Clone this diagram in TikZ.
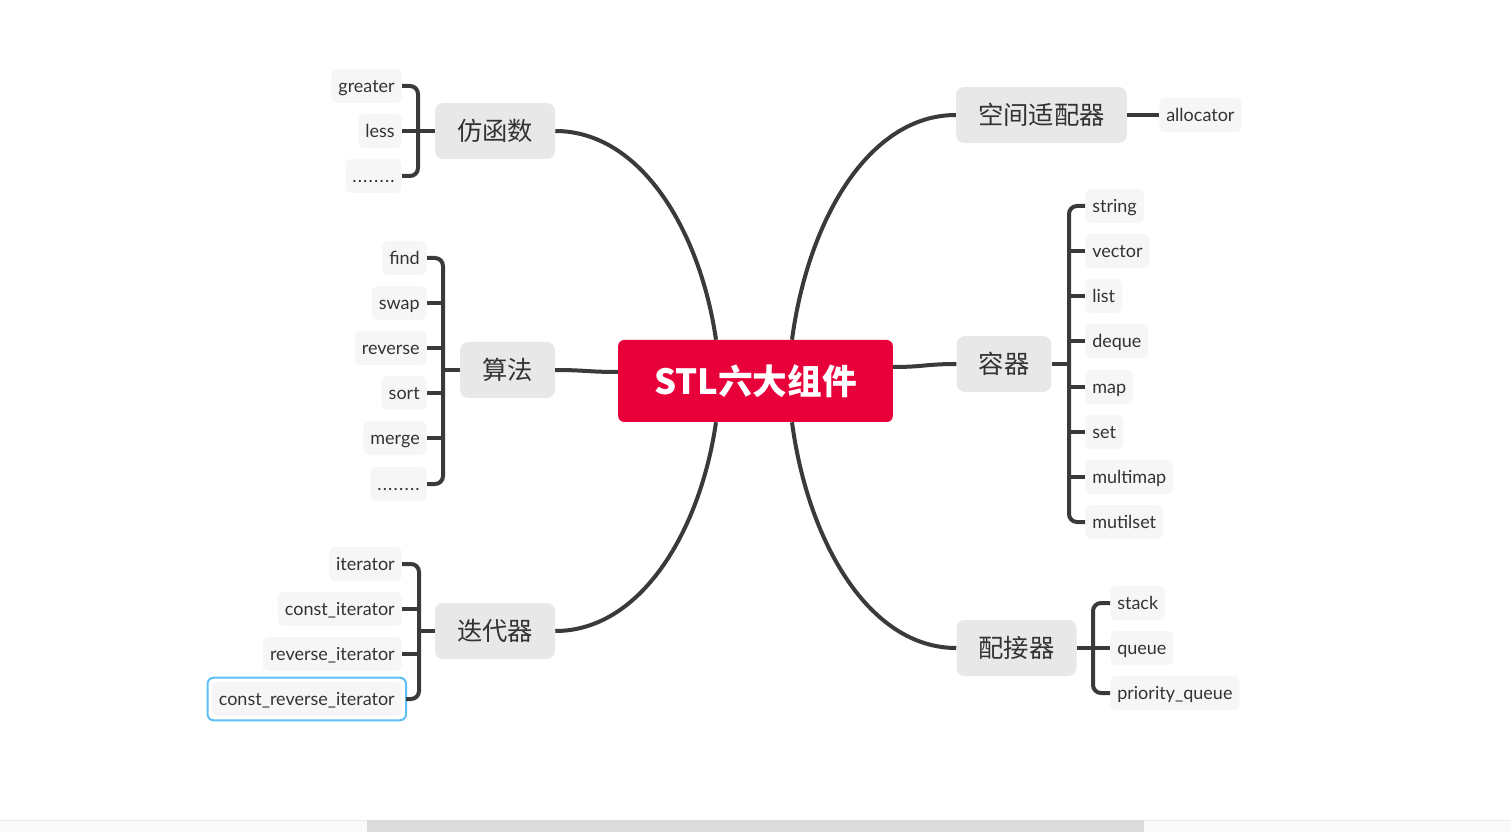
\documentclass[tikz,border=0pt]{standalone}
\usepackage{fontspec}
\setmainfont{Lato}
\newfontfamily\cjk{Noto Sans CJK SC}
\usetikzlibrary{calc}
\definecolor{stlred}{HTML}{E8003A}
\definecolor{topicgray}{HTML}{E8E8E8}
\definecolor{leafgray}{HTML}{F6F6F6}
\definecolor{linegray}{HTML}{3A3A3A}
\definecolor{textgray}{HTML}{333333}
\definecolor{selblue}{HTML}{5EBEF6}
\newcommand\leafdots{.\kern0.9pt.\kern0.9pt.\kern0.9pt.\kern0.9pt.\kern0.9pt.\kern0.9pt.\kern0.9pt.}
\tikzstyle{root}=[rectangle,rounded corners=4.5pt,fill=stlred,text=white,font=\cjk\bfseries\fontsize{26}{30}\selectfont,minimum width=206pt,minimum height=61.5pt]
\tikzstyle{topic}=[rectangle,rounded corners=6pt,fill=topicgray,text=textgray,font=\cjk\fontsize{19}{22}\selectfont,inner xsep=16.5pt,minimum height=42pt]
\tikzstyle{leaf}=[rectangle,rounded corners=4.5pt,fill=leafgray,text=textgray,font=\fontsize{13.5}{16}\selectfont,inner xsep=5.25pt,inner ysep=0pt,text height=12.4pt,text depth=2.2pt,minimum height=25.5pt]
\tikzstyle{branch}=[draw=linegray,line width=3pt]
\tikzstyle{bracket}=[draw=linegray,line width=3pt,rounded corners=6pt]
\tikzstyle{selected leaf}=[draw=selblue,line width=1.5pt,rounded corners=4.5pt]

\begin{document}
\begin{tikzpicture}[x=0.75pt,y=-0.75pt]
  \useasboundingbox (0,0) rectangle (1511,834);

  % The root and the six topics
  \node[root] (stl) at (755.5,381) {STL六大组件};
  \foreach \pos/\name/\txt in {{(495,131)/fun/仿函数}, {(507.5,370)/alg/算法}, {(495,631)/iter/迭代器},
      {(1041.5,115)/alloc/空间适配器}, {(1004,364)/cont/容器}, {(1016.5,648)/adap/配接器}}
    \node[topic] (\name) at \pos {\txt};

  % Leaves on the left, right aligned
  \foreach \name/\y/\txt in {greater/86/greater, less/131/less, fdots/176/\leafdots}
    \node[leaf, anchor=east] (\name) at (402,\y) {\txt};
  \foreach \name/\y/\txt in {find/258/find, swap/303/swap, reverse/348/reverse,
      sort/393/sort, merge/438/merge, adots/484/\leafdots}
    \node[leaf, anchor=east] (\name) at (427,\y) {\txt};
  \foreach \name/\y/\txt in {it/564/iterator, cit/609/const\_iterator,
      rit/654/reverse\_iterator, crit/699/const\_reverse\_iterator}
    \node[leaf, anchor=east] (\name) at (402,\y) {\txt};

  % Leaves on the right, left aligned
  \node[leaf, anchor=west] (allocator) at (1159,115) {allocator};
  \foreach \name/\y/\txt in {string/206/string, vector/251/vector, list/296/list,
      deque/341/deque, map/387/map, set/432/set, multimap/477/multimap, mutilset/522/mutilset}
    \node[leaf, anchor=west] (\name) at (1085,\y) {\txt};
  \foreach \name/\y/\txt in {stack/603/stack, queue/648/queue, pq/693/priority\_queue}
    \node[leaf, anchor=west] (\name) at (1110,\y) {\txt};

  % The selected leaf
  \path[selected leaf] ($(crit.north west)+(-4,-4)$) rectangle ($(crit.south east)+(4,4)$);

  % Curved branches from the root
  \path[branch] ($(stl.north)+(-39.5,0)$) .. controls +(-16,-110) and +(85,0) .. (fun.east);
  \path[branch] ($(stl.north)+(36.5,0)$) .. controls +(16,-120) and +(-87,0) .. (alloc.west);
  \path[branch] ($(stl.south)+(-39.5,0)$) .. controls +(-16,110) and +(85,0) .. (iter.east);
  \path[branch] ($(stl.south)+(36.5,0)$) .. controls +(16,120) and +(-87,0) .. (adap.west);
  \path[branch] ($(stl.west)+(0,-9)$) .. controls +(-30,0) and +(30,0) .. (alg.east);
  \path[branch] ($(stl.east)+(0,-14)$) .. controls +(30,0) and +(-30,0) .. (cont.west);
  \path[branch] (alloc.east) -- (allocator.west);

  % Brackets that hold the leaves
  \coordinate (fB) at (418,131);
  \coordinate (aB) at (443,370);
  \coordinate (iB) at (419,631);
  \coordinate (cB) at (1069,364);
  \coordinate (pB) at (1093,648);

  \path[bracket] (greater.east) -| (fB) |- (fdots.east);
  \path[bracket] (find.east) -| (aB) |- (adots.east);
  \path[bracket] (it.east) -| (iB) |- ($(crit.east)+(4,0)$);
  \path[bracket] (string.west) -| (cB) |- (mutilset.west);
  \path[bracket] (stack.west) -| (pB) |- (pq.west);

  \foreach \source/ \dest in {less/fB, swap/aB, reverse/aB, sort/aB, merge/aB, cit/iB, rit/iB}
    \path[branch] (\source.east) -- (\source.east -| \dest);
  \foreach \source/ \dest in {vector/cB, list/cB, deque/cB, map/cB, set/cB, multimap/cB, queue/pB}
    \path[branch] (\source.west) -- (\source.west -| \dest);
  \foreach \source/ \dest in {fB/fun.west, aB/alg.west, iB/iter.west, cB/cont.east, pB/adap.east}
    \path[branch] (\source) -- (\dest);

  % Scroll bar at the bottom
  \fill[black!2] (0,820) rectangle (1511,832);
  \draw[black!8, line width=0.75pt] (0,820) -- (1511,820);
  \fill[black!14] (367,820) rectangle (1144,832);
\end{tikzpicture}
\end{document}
